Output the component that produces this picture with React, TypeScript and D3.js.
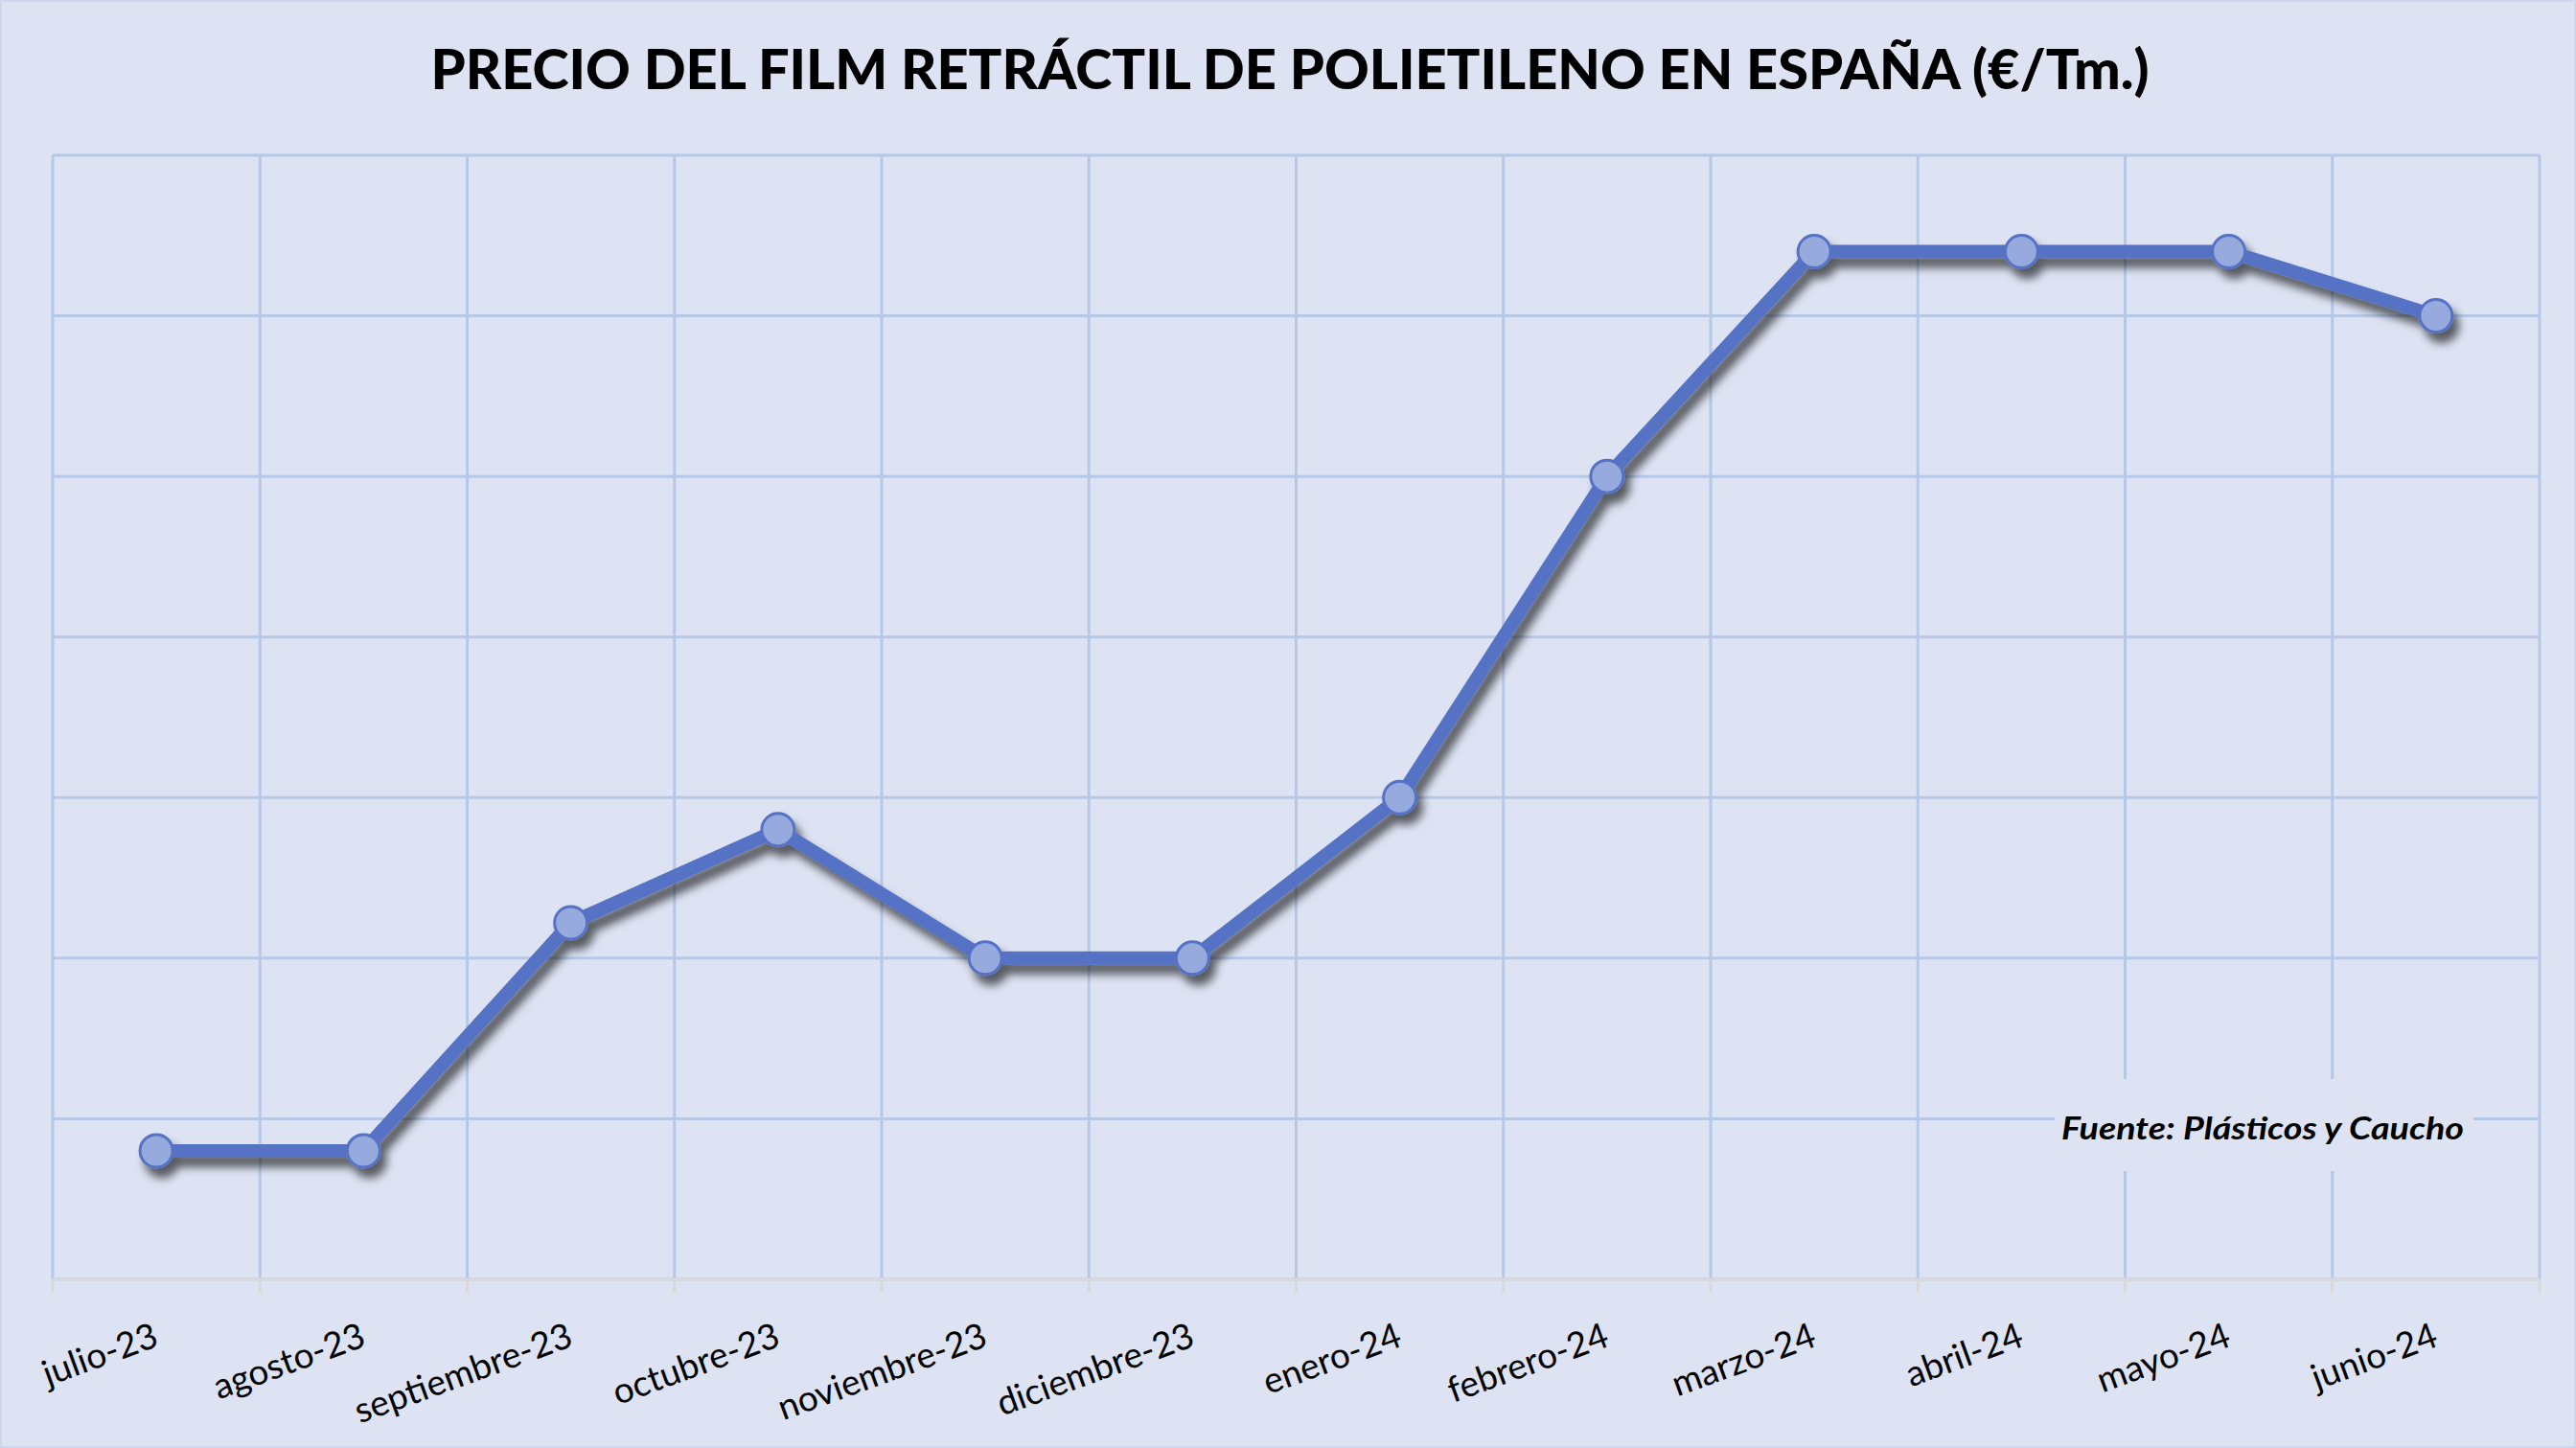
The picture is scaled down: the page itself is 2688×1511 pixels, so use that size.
import React, { useEffect } from 'react';
import * as d3 from 'd3';

// Months shown on the category axis
const months = [
  'julio-23', 'agosto-23', 'septiembre-23', 'octubre-23', 'noviembre-23', 'diciembre-23',
  'enero-24', 'febrero-24', 'marzo-24', 'abril-24', 'mayo-24', 'junio-24',
];

// €/Tm (the axis has no labels, grid step assumed 50)
const prices = [1440, 1440, 1511, 1540, 1500, 1500, 1550, 1650, 1720, 1720, 1720, 1700];

const yDomain = [1400, 1750];
const gridCount = 7;

const title = 'PRECIO DEL FILM RETRÁCTIL DE POLIETILENO EN ESPAÑA (€/Tm.)';
const source = 'Fuente: Plásticos y Caucho';

const W = 2688;
const H = 1511;
const BG = '#dde3f3';
const GRID = '#b6c8e8';
const LINE = '#5572c4';
const MARKER = '#97aade';

export default function App() {
  useEffect(() => {
    document.body.style.margin = '0';
  }, []);

  const x = d3.scaleBand<string>().domain(months).range([55, 2650]);
  const y = d3.scaleLinear().domain(yDomain).range([1335, 162]);

  const bw = x.bandwidth();
  const edges = months.map((m) => x(m) as number).concat([x.range()[1]]);
  const yTicks = y.ticks(gridCount);

  const line = d3
    .line<number>()
    .x((_, i) => (x(months[i]) as number) + bw / 2)
    .y((d) => y(d));

  return (
    <svg width={W} height={H} style={{ position: 'absolute', left: 0, top: 0, display: 'block' }}>
      <defs>
        <filter id="shadow" x="-10%" y="-10%" width="120%" height="130%">
          <feDropShadow dx="6" dy="10" stdDeviation="5" floodColor="#000" floodOpacity="0.6" />
        </filter>
      </defs>
      <rect x={0} y={0} width={W} height={H} fill={BG} />
      <rect x={1} y={1} width={W - 2} height={H - 2} fill="none" stroke="#cdd6ec" strokeWidth={2} />

      <text
        x={1346}
        y={93}
        textAnchor="middle"
        fontFamily="Lato, 'Noto Sans', sans-serif"
        fontWeight="900"
        fontSize={58}
        textLength={1793}
        lengthAdjust="spacingAndGlyphs"
        fill="#000"
      >
        {title}
      </text>

      {/* grid */}
      {yTicks.map((t) => (
        <line key={'h' + t} x1={55} x2={2650} y1={y(t)} y2={y(t)} stroke={GRID} strokeWidth={3} />
      ))}
      {edges.map((ex, i) => (
        <line key={'v' + i} x1={ex} x2={ex} y1={y(yDomain[1])} y2={y(yDomain[0])} stroke={GRID} strokeWidth={3} />
      ))}

      {/* category axis */}
      <line x1={55} x2={2650} y1={y(yDomain[0])} y2={y(yDomain[0])} stroke="#d9d9d9" strokeWidth={3} />
      {edges.map((ex, i) => (
        <line key={'t' + i} x1={ex} x2={ex} y1={y(yDomain[0])} y2={y(yDomain[0]) + 14} stroke="#d9d9d9" strokeWidth={3} />
      ))}
      {months.map((m) => {
        const cx = (x(m) as number) + bw / 2 + 4;
        const cy = 1404;
        return (
          <text
            key={m}
            x={cx}
            y={cy}
            transform={`rotate(-20, ${cx}, ${cy})`}
            textAnchor="end"
            fontFamily="Lato, 'Noto Sans', sans-serif"
            fontSize={37}
            fill="#000"
          >
            {m}
          </text>
        );
      })}

      {/* source label box */}
      <rect x={2144} y={1126} width={437} height={96} fill={BG} />
      <text
        x={2151}
        y={1189}
        fontFamily="Lato, 'Noto Sans', sans-serif"
        fontWeight="bold"
        fontStyle="italic"
        fontSize={32}
        textLength={420}
        lengthAdjust="spacingAndGlyphs"
        fill="#000"
      >
        {source}
      </text>

      {/* series */}
      <g filter="url(#shadow)">
        <path d={line(prices) || ''} fill="none" stroke={LINE} strokeWidth={14} strokeLinejoin="round" />
        {prices.map((p, i) => (
          <circle
            key={i}
            cx={(x(months[i]) as number) + bw / 2}
            cy={y(p)}
            r={17}
            fill={MARKER}
            stroke={LINE}
            strokeWidth={3}
          />
        ))}
      </g>
    </svg>
  );
}
